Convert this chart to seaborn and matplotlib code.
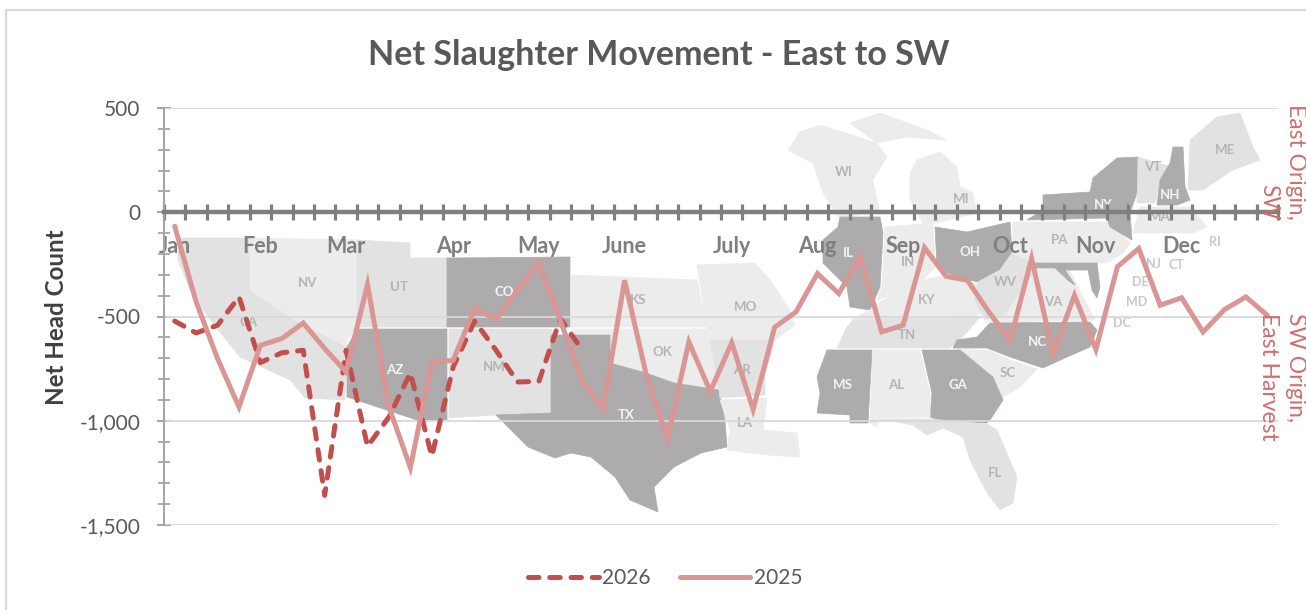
import matplotlib
matplotlib.use("Agg")
import matplotlib.pyplot as plt
import pandas as pd
import seaborn as sns
from matplotlib.patches import Polygon

# ------ data (weekly net head count) ------
months = ["Jan", "Feb", "Mar", "Apr", "May", "June", "July", "Aug", "Sep", "Oct", "Nov", "Dec"]
month_weeks = [0, 4, 8, 13, 17, 21, 26, 30, 34, 39, 43, 47]
y_ticks = [500, 0, -500, -1000, -1500]

values_2025 = [-67, -430, -702, -934, -638, -606, -531, -654, -766, -346, -934, -1225, -721,
               -710, -462, -514, -374, -243, -518, -806, -942, -326, -774, -1085, -622, -859,
               -626, -946, -552, -478, -294, -390, -214, -574, -542, -170, -307, -326, -478,
               -614, -222, -678, -398, -658, -262, -174, -446, -410, -574, -467, -406, -494]
values_2026 = [-522, -579, -542, -406, -721, -674, -662, -1358, -662, -1123, -982, -771, -1170,
               -742, -522, -662, -814, -811, -510, -658]

df_2025 = pd.DataFrame({"week": range(len(values_2025)), "net": values_2025})
df_2026 = pd.DataFrame({"week": range(len(values_2026)), "net": values_2026})

# backdrop map, traced in image pixels: shade, outline, label position
DARK, LIGHT, PALE = "#aeabac", "#e2e2e2", "#ececec"
states = {
    "CA": (LIGHT, [(178, 238), (250, 238), (250, 290), (290, 317), (347, 347), (345, 400), (305, 398),
                   (290, 380), (240, 357), (210, 320), (190, 290), (178, 260)], (249, 322)),
    "NV": (PALE, [(250, 238), (357, 240), (357, 327), (347, 340), (347, 347), (290, 317), (250, 290)], (308, 283)),
    "UT": (LIGHT, [(357, 240), (410, 243), (410, 258), (447, 258), (447, 327), (357, 327)], (399, 287)),
    "CO": (DARK, [(447, 258), (570, 257), (570, 327), (447, 327)], (504, 292)),
    "AZ": (DARK, [(357, 329), (447, 329), (447, 420), (417, 420), (347, 397), (347, 347)], (395, 370)),
    "NM": (LIGHT, [(449, 329), (552, 329), (552, 413), (496, 415), (463, 417), (449, 418)], (494, 367)),
    "KS": (PALE, [(571, 275), (697, 280), (707, 327), (571, 327)], (638, 300)),
    "OK": (PALE, [(571, 329), (707, 329), (719, 390), (674, 383), (646, 373), (610, 363), (610, 335), (571, 335)], (662, 352)),
    "TX": (DARK, [(551, 335), (610, 335), (610, 363), (646, 373), (674, 383), (719, 390), (725, 420),
                  (727, 447), (701, 453), (674, 467), (654, 487), (658, 512), (630, 500), (615, 477),
                  (591, 457), (571, 453), (555, 458), (528, 447), (496, 415), (551, 413)], (626, 415)),
    "MO": (PALE, [(697, 265), (755, 263), (770, 280), (790, 310), (795, 325), (775, 340), (710, 340), (707, 327)], (746, 307)),
    "AR": (LIGHT, [(710, 340), (775, 340), (765, 375), (765, 395), (720, 398), (719, 390)], (742, 370)),
    "LA": (PALE, [(720, 400), (767, 398), (763, 430), (797, 433), (800, 457), (767, 455), (727, 450), (730, 430)], (745, 423)),
    "WI": (PALE, [(788, 150), (800, 132), (820, 125), (877, 143), (887, 157), (873, 180), (880, 213),
                  (838, 217), (823, 193), (813, 163)], (844, 172)),
    "MI": (PALE, [(910, 173), (917, 160), (940, 152), (957, 167), (960, 187), (973, 193), (977, 213),
                  (937, 223), (923, 223), (910, 200)], (961, 199)),
    "IL": (DARK, [(840, 217), (880, 217), (883, 233), (880, 287), (870, 310), (850, 307), (847, 287),
                  (823, 263), (823, 240), (838, 227)], (848, 253)),
    "IN": (PALE, [(885, 227), (933, 223), (935, 267), (923, 280), (900, 293), (877, 300), (882, 287)], (908, 262)),
    "OH": (DARK, [(935, 227), (967, 232), (1010, 222), (1012, 253), (1000, 270), (977, 282), (947, 273), (937, 267)], (970, 252)),
    "KY": (PALE, [(870, 310), (880, 302), (923, 280), (947, 275), (977, 284), (990, 310), (960, 322), (850, 320)], (927, 300)),
    "TN": (LIGHT, [(853, 320), (980, 317), (960, 340), (950, 348), (837, 348), (847, 327)], (907, 335)),
    "WV": (LIGHT, [(1012, 253), (1040, 265), (1025, 285), (1005, 315), (985, 320), (975, 300), (978, 282), (1000, 270)], (1005, 282)),
    "VA": (PALE, [(1037, 270), (1067, 265), (1082, 295), (1095, 320), (985, 322), (1005, 315), (1025, 285)], (1053, 302)),
    "NC": (DARK, [(990, 323), (1090, 322), (1097, 330), (1090, 347), (1067, 357), (1043, 368), (1010, 357),
                  (987, 348), (953, 348), (957, 340), (977, 337)], (1037, 342)),
    "SC": (PALE, [(957, 349), (990, 351), (1010, 360), (1037, 369), (1020, 387), (1002, 398), (993, 375)], (1008, 373)),
    "GA": (DARK, [(922, 350), (960, 350), (993, 377), (1003, 400), (990, 420), (987, 423), (943, 422),
                  (930, 417), (932, 393)], (958, 385)),
    "AL": (PALE, [(873, 350), (920, 350), (930, 393), (930, 417), (880, 418), (877, 427), (870, 423)], (896, 385)),
    "MS": (DARK, [(827, 350), (872, 350), (868, 423), (850, 423), (850, 415), (817, 413), (820, 393), (817, 377)], (843, 385)),
    "FL": (LIGHT, [(880, 419), (930, 419), (987, 424), (997, 430), (1017, 477), (1013, 503), (1000, 510),
                   (987, 493), (970, 460), (963, 437), (943, 428), (927, 435), (913, 425)], (995, 473)),
    "PA": (PALE, [(1013, 222), (1110, 222), (1130, 243), (1123, 253), (1107, 263), (1033, 263), (1012, 253)], (1060, 240)),
    "NY": (DARK, [(1027, 220), (1043, 210), (1043, 195), (1090, 192), (1093, 178), (1117, 158), (1138, 157),
                  (1138, 190), (1130, 213), (1132, 240), (1110, 227), (1107, 218)], (1103, 205)),
    "VT": (LIGHT, [(1138, 157), (1172, 167), (1160, 180), (1155, 203), (1137, 203)], (1153, 167)),
    "NH": (DARK, [(1173, 147), (1183, 147), (1185, 187), (1190, 200), (1177, 205), (1157, 205), (1160, 180), (1170, 163)], (1170, 195)),
    "ME": (LIGHT, [(1190, 140), (1217, 117), (1240, 113), (1253, 147), (1260, 160), (1233, 170), (1203, 190), (1188, 190)], (1225, 150)),
    "MA": (PALE, [(1140, 207), (1190, 207), (1207, 227), (1193, 233), (1133, 233)], (1160, 217)),
    "MD": (DARK, [(1033, 263), (1097, 263), (1100, 287), (1097, 298), (1092, 290), (1088, 270), (1065, 270),
                  (1075, 285), (1070, 282), (1055, 268), (1033, 268)], None),
}
extra_labels = {"MD": (1137, 302), "DE": (1140, 282), "DC": (1122, 323), "RI": (1215, 242),
                "CT": (1176, 265), "NJ": (1153, 264)}
upper_mi = [(850, 123), (880, 113), (927, 130), (947, 140), (907, 137), (877, 143)]

# ------ common settings ------
sns.set_theme(style="white")
plt.rcParams["font.family"] = ["Lato", "DejaVu Sans"]

fig = plt.figure(figsize=(13.06, 6.10), dpi=100)

# backdrop in pixel coordinates
bg = fig.add_axes([0, 0, 1, 1], zorder=0)
bg.set_xlim(0, 1306)
bg.set_ylim(610, 0)
bg.axis("off")
bg.plot([6, 6, 1306], [610, 10, 10], color="#d9d9d9", lw=1.6)
bg.add_patch(Polygon(upper_mi, closed=True, fc=PALE, ec=PALE, lw=0.5))
for name, (shade, outline, label_pos) in states.items():
    bg.add_patch(Polygon(outline, closed=True, fc=shade, ec=shade, lw=0.5))
    if label_pos is not None:
        bg.text(label_pos[0], label_pos[1], name, ha="center", va="center", fontsize=9.5, fontweight="bold",
                color="#f4f4f4" if shade == DARK else "#b4b4b4")
for name, pos in extra_labels.items():
    bg.text(pos[0], pos[1], name, ha="center", va="center", fontsize=9, fontweight="bold", color="#c8c8c8")

# main chart
ax = fig.add_axes([164 / 1306, (610 - 525) / 610, 1114 / 1306, 417 / 610], zorder=1)
ax.patch.set_alpha(0)

for y in [500, -500, -1000, -1500]:
    ax.axhline(y, color="#d9d9d9", lw=1.3, zorder=1)

sns.lineplot(data=df_2026, x="week", y="net", ax=ax, color="#c0504d", lw=3.6, label="2026",
             linestyle=(0, (2.1, 2.15)), dash_capstyle="round", zorder=3)
sns.lineplot(data=df_2025, x="week", y="net", ax=ax, color="#d99694", lw=3.6, label="2025",
             solid_capstyle="round", solid_joinstyle="miter", zorder=4)

ax.set_xlim(-0.5, 51.5)
ax.set_ylim(-1500, 500)
ax.set_xlabel("")
ax.set_ylabel("")

# x axis runs along zero with crossing tick marks, month names sit below it
ax.spines["bottom"].set_position(("data", 0))
ax.spines["bottom"].set_color("#7f7f7f")
ax.spines["bottom"].set_linewidth(3.2)
ax.spines["bottom"].set_zorder(5)
ax.spines["left"].set_color("#a6a6a6")
ax.spines["left"].set_linewidth(1.5)
ax.spines["top"].set_visible(False)
ax.spines["right"].set_visible(False)

ax.set_xticks(month_weeks)
ax.set_xticklabels(months, fontsize=15.5, fontweight="bold", color="#7f7f7f")
ax.set_xticks([i - 0.5 for i in range(53)], minor=True)
ax.tick_params(axis="x", which="major", length=0, pad=17, bottom=True)
ax.tick_params(axis="x", which="minor", direction="inout", length=11.5, width=2.3, color="#7f7f7f", bottom=True)

ax.set_yticks(y_ticks)
ax.set_yticklabels([f"{v:,}" for v in y_ticks], fontsize=15, color="#595959")
ax.set_yticks(list(range(-1500, 501, 100)), minor=True)
ax.tick_params(axis="y", which="major", direction="inout", length=10, width=1.5, color="#a6a6a6", left=True, pad=12)
ax.tick_params(axis="y", which="minor", direction="inout", length=8, width=1.3, color="#a6a6a6", left=True)

handles, labels = ax.get_legend_handles_labels()
leg = ax.legend(handles, labels, ncol=2, frameon=False, loc="center", bbox_to_anchor=(665 / 1306, 1 - 578 / 610),
                bbox_transform=fig.transFigure, fontsize=15, handlelength=3.4, columnspacing=1.4, handletextpad=0.15)
for t in leg.get_texts():
    t.set_color("#595959")

# titles and side notes
fig.text(659 / 1306, 1 - 55 / 610, "Net Slaughter Movement - East to SW", ha="center", va="center",
         fontsize=24.5, fontweight="bold", color="#595959")
fig.text(57 / 1306, 1 - 317 / 610, "Net Head Count", rotation=90, ha="center", va="center",
         fontsize=17.4, fontweight="bold", color="#404040")
fig.text(1282.5 / 1306, 1 - 220 / 610, "East Origin,\nSW", rotation=270, ha="center", va="bottom",
         multialignment="right", fontsize=16.4, color="#cd6f6d", linespacing=1.35)
fig.text(1282 / 1306, 1 - 313 / 610, "SW Origin,\nEast Harvest", rotation=270, ha="center", va="top",
         multialignment="left", fontsize=16.4, color="#cd6f6d", linespacing=1.35)

plt.savefig("out.png", dpi=100)
plt.close(fig)
